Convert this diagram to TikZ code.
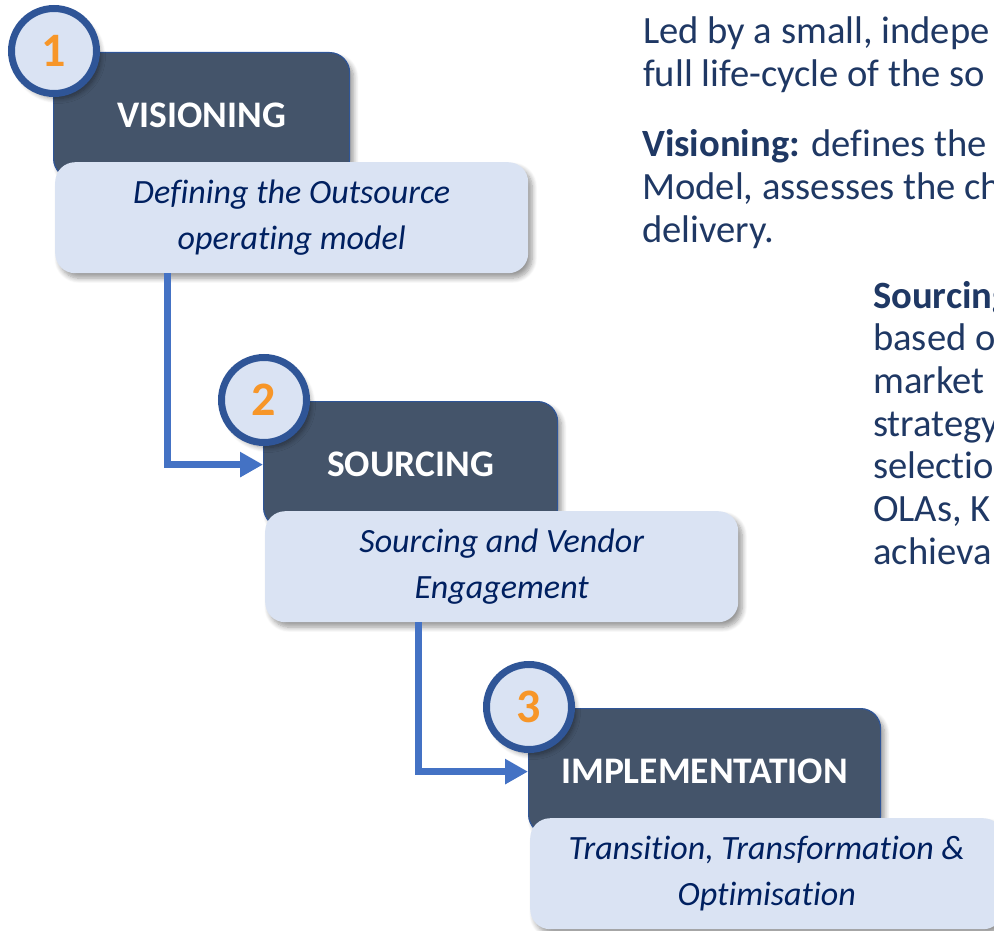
\documentclass[tikz,border=0pt]{standalone}
\usepackage{fontspec}
\setmainfont{Carlito}[Ligatures=NoCommon]
\usetikzlibrary{shadows.blur,arrows.meta}

\definecolor{slate}{RGB}{68,84,106}
\definecolor{ringblue}{RGB}{47,85,151}
\definecolor{paleblue}{RGB}{218,227,243}
\definecolor{stepnum}{RGB}{247,150,40}
\definecolor{navy}{RGB}{0,32,96}
\definecolor{bodytext}{RGB}{31,56,100}
\definecolor{flowblue}{RGB}{68,114,196}

\tikzset{
  softshadow/.style={blur shadow={shadow xshift=4pt,shadow yshift=-5pt,shadow blur steps=8,shadow blur radius=5pt,shadow opacity=40}},
  header/.style={draw=ringblue,line width=1.2pt,fill=slate,rounded corners=20pt,minimum height=126pt,anchor=north west,inner sep=0pt,text=white,font=\fontsize{37.5}{40}\selectfont\bfseries,softshadow},
  detail/.style={fill=paleblue,rounded corners=20pt,minimum width=473pt,minimum height=111pt,anchor=north west,align=center,inner sep=0pt,text=navy,font=\fontsize{34}{46}\selectfont\itshape,softshadow},
  badge/.style={circle,draw=ringblue,line width=7pt,fill=paleblue,minimum size=85pt,inner sep=0pt,text=stepnum,font=\fontsize{48}{48}\selectfont\bfseries,softshadow},
  flow/.style={draw=flowblue,line width=7pt,-{Triangle[length=23pt,width=24pt]}},
  para/.style={anchor=base west,inner sep=0pt,text=bodytext,font=\fontsize{38.6}{43}\selectfont}
}

\begin{document}
\begin{tikzpicture}[x=1pt,y=-1pt]
  \useasboundingbox (0,0) rectangle (994,931);
  \clip (0,0) rectangle (994,931);
  % the three steps
  \foreach \n/\x/\y/\w/\head/\sub in {1/53/52/296/VISIONING/{Defining the Outsource\\operating model},
      2/263/401/294/SOURCING/{Sourcing and Vendor\\Engagement},
      3/528/708/352/IMPLEMENTATION/{Transition, Transformation \&\\Optimisation}}{
    \node[header,minimum width=\w pt] (dk\n) at (\x,\y) {\head};
    \node[detail] (lt\n) at (\x+2,\y+110) {\sub};
    \node[badge] (num\n) at (\x+1,\y-1) {\n};}
  \draw[flow] ([xshift=112pt]lt1.south west) |- (dk2.west);
  \draw[flow] ([xshift=153pt]lt2.south west) |- (dk3.west);
  % text on the right
  \node[para] (intro1) at (643,44) {Led by a small, indepe};
  \node[para] (intro2) at (643,87) {full life-cycle of the so};
  \node[para] (vis1) at (642,157) {\textbf{Visioning:} defines the};
  \node[para] (vis2) at (642,200) {Model, assesses the ch};
  \node[para] (vis3) at (642,243) {delivery.};
  \foreach \t [count=\i from 0] in {\textbf{Sourcing},based o,market,strategy,selectio,{OLAs, K},achieva}
    \node[para] (src\i) at (873,308+42.7*\i) {\t};
\end{tikzpicture}
\end{document}
